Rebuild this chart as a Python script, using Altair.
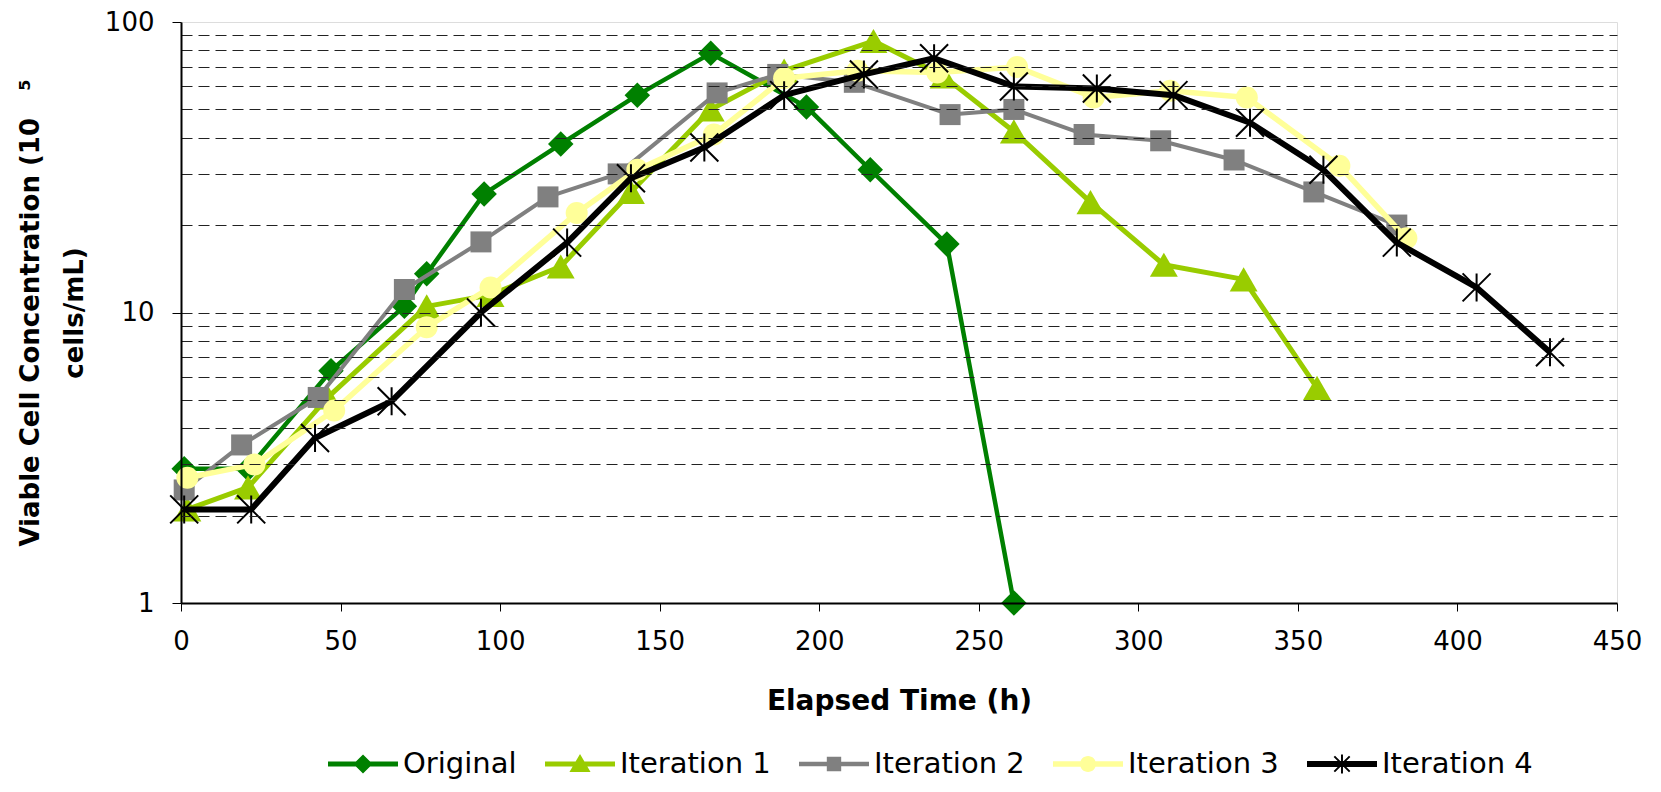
import altair as alt
import pandas as pd

# ---------------- data ----------------
series_names = ["Original", "Iteration 1", "Iteration 2", "Iteration 3", "Iteration 4"]
series_colors = ["#008000", "#99CC00", "#808080", "#FFFF99", "#000000"]

orig_t = [1, 21, 47, 70, 77, 95, 119, 143, 166, 196, 216, 240, 261]
orig_v = [2.9, 2.9, 6.3, 10.5, 13.6, 25.6, 38, 56, 78, 51, 31, 17.2, 1.0]

it1_t = [2, 21, 46, 77, 97, 119, 141, 166, 189, 217, 239, 261, 285, 308, 333, 356]
it1_v = [2.1, 2.5, 5.1, 10.5, 11.5, 14.4, 26, 50, 68, 86, 65, 42, 24, 14.6, 13.0, 5.5]

it2_t = [1, 19, 43, 70, 94, 115, 137, 168, 187, 211, 241, 261, 283, 307, 330, 355, 381]
it2_v = [2.45, 3.5, 5.1, 12, 17.5, 25, 30, 57, 66, 62, 48, 50, 41, 39, 33.5, 26, 20]

it3_t = [2, 23, 48, 77, 97, 124, 143, 167, 189, 212, 237, 262, 286, 310, 334, 363, 384]
it3_v = [2.7, 3.0, 4.6, 8.9, 12.2, 22, 31, 41, 64, 68, 67, 70, 55, 58, 55, 32, 18]

it4_t = [1, 22, 42, 66, 94, 121, 141, 164, 189, 214, 236, 261, 287, 311, 335, 358, 381, 406, 429]
it4_v = [2.1, 2.1, 3.7, 4.95, 10, 17.4, 29, 37, 56, 66, 75, 60, 59, 56, 45, 31, 17.4, 12.2, 7.3]

x_ticks = [0, 50, 100, 150, 200, 250, 300, 350, 400, 450]
y_grid = [1, 2, 3, 4, 5, 6, 7, 8, 9, 10, 20, 30, 40, 50, 60, 70, 80, 90, 100]

all_t = [orig_t, it1_t, it2_t, it3_t, it4_t]
all_v = [orig_v, it1_v, it2_v, it3_v, it4_v]

rows = []
for name, ts, vs in zip(series_names, all_t, all_v):
    for t, v in zip(ts, vs):
        rows.append({"series": name, "time": t, "vcc": v})
df = pd.DataFrame(rows)

# ---------------- styling ----------------
FONT = "DejaVu Sans"
line_widths = [4.5, 5, 4, 5.5, 6]
ASTER = "M-1,-1L1,1M-1,1L1,-1M0,-1L0,1"
marker_shapes = ["diamond", "triangle-up", "square", "circle", ASTER]
marker_sizes = [650, 780, 441, 484, 784]


def poly(pts):
    area = 0.0
    for i in range(len(pts)):
        x1, y1 = pts[i]
        x2, y2 = pts[(i + 1) % len(pts)]
        area += x1 * y2 - x2 * y1
    if area < 0:
        pts = pts[::-1]
    return "M" + "L".join(f"{x:.3f},{y:.3f}" for x, y in pts) + "Z"


# legend symbol paths: unit = sqrt(symbolSize)/2 = 16 px
CX = 1.1875
def bar(h):
    return poly([(-1, -h), (3.375, -h), (3.375, h), (-1, h)])

def legend_path(kind, h):
    p = bar(h)
    if kind == "diamond":
        p += poly([(CX, -0.6), (CX + 0.6, 0), (CX, 0.6), (CX - 0.6, 0)])
    elif kind == "triangle":
        p += poly([(CX, -0.62), (CX + 0.66, 0.5), (CX - 0.66, 0.5)])
    elif kind == "square":
        p += poly([(CX - 0.45, -0.45), (CX + 0.45, -0.45), (CX + 0.45, 0.45), (CX - 0.45, 0.45)])
    elif kind == "circle":
        r = 0.5
        p += f"M{CX - r:.3f},0A{r},{r} 0 1,1 {CX + r:.3f},0A{r},{r} 0 1,1 {CX - r:.3f},0Z"
    elif kind == "star":
        t = 0.06
        L = 0.6
        p += poly([(CX - t, -L), (CX + t, -L), (CX + t, L), (CX - t, L)])
        d = L * 0.8
        o = t * 0.7071
        p += poly([(CX - d + o, -d - o), (CX + d + o, d - o), (CX + d - o, d + o), (CX - d - o, -d + o)])
        p += poly([(CX + d + o, -d + o), (CX - d + o, d + o), (CX - d - o, d - o), (CX + d - o, -d - o)])
    return p

legend_paths = [
    legend_path("diamond", 0.15),
    legend_path("triangle", 0.16),
    legend_path("square", 0.14),
    legend_path("circle", 0.17),
    legend_path("star", 0.19),
]

major_test = "datum.value == 1 || datum.value == 10 || datum.value == 100"

x_axis = alt.Axis(
    values=x_ticks, grid=False, tickSize=8, tickColor="black", tickWidth=1,
    domainColor="black", domainWidth=2, labelFont=FONT, labelFontSize=26,
    labelColor="black", labelPadding=17, labelFlush=False, zindex=1,
    title="Elapsed Time (h)", titleFont=FONT, titleFontSize=28, titleFontWeight="bold",
    titleColor="black", titlePadding=33,
)
y_axis = alt.Axis(
    values=y_grid, labelExpr=f"({major_test}) ? datum.label : ''", labelOverlap=False,
    labelFlush=False, grid=True, gridDash=[11, 6], gridColor="#222222", gridWidth=1,
    gridOpacity={"condition": {"test": "datum.value == 1 || datum.value == 100", "value": 0}, "value": 1},
    tickOpacity={"condition": {"test": major_test, "value": 1}, "value": 0},
    tickSize=9, tickColor="black", domainColor="black", domainWidth=2, zindex=1,
    labelFont=FONT, labelFontSize=26, labelColor="black", labelPadding=18,
    title=["Viable Cell Concentration (10\u00a0\u00a0\u00a0\u2075", "cells/mL)"],
    titleFont=FONT, titleFontSize=26, titleFontWeight="bold", titleColor="black",
    titlePadding=17, titleLineHeight=44,
)

x_enc = alt.X("time:Q", scale=alt.Scale(domain=[0, 450], nice=False, zero=False), axis=x_axis)
y_enc = alt.Y("vcc:Q", scale=alt.Scale(type="log", domain=[1, 100], nice=False), axis=y_axis)

layers = []
for name, col, lw, shp, sz in zip(series_names, series_colors, line_widths, marker_shapes, marker_sizes):
    base = alt.Chart(df).transform_filter(alt.datum.series == name)
    layers.append(base.mark_line(color=col, strokeWidth=lw, strokeJoin="round").encode(x=x_enc, y=y_enc))
    if shp == ASTER:
        pts = base.mark_point(shape=shp, filled=False, color=col, strokeWidth=2, size=sz, opacity=1)
    else:
        pts = base.mark_point(shape=shp, filled=True, color=col, size=sz, opacity=1)
    layers.append(pts.encode(x=x_enc, y=y_enc))

leg = alt.Legend(
    orient="none", legendX=147, legendY=726, direction="horizontal", title=None,
    symbolSize=1024, symbolStrokeWidth=0, labelFont=FONT, labelFontSize=29,
    labelColor="black", labelOffset=43, columnPadding=28, padding=0, labelLimit=400,
    symbolOpacity=1,
)
legend_layer = (
    alt.Chart(df)
    .transform_filter("false")
    .mark_point(filled=True, opacity=1)
    .encode(
        color=alt.Color("series:N", scale=alt.Scale(domain=series_names, range=series_colors), legend=leg),
        shape=alt.Shape("series:N", scale=alt.Scale(domain=series_names, range=legend_paths), legend=leg),
    )
)
layers.append(legend_layer)

chart = (
    alt.layer(*layers)
    .properties(width=1436, height=581, padding={"left": 9, "top": 1, "right": 5, "bottom": 0},
                background="white")
    .configure_view(stroke="#808080", strokeWidth=1.5)
    .configure(font=FONT)
)

chart.save("out.html", embed_options={"renderer": "svg", "actions": False})
